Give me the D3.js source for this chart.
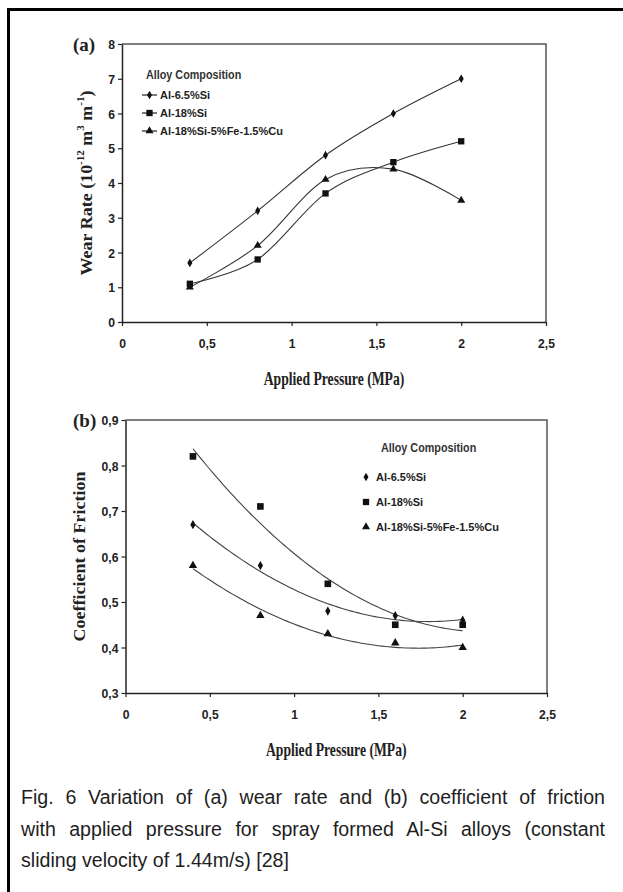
<!DOCTYPE html>
<html>
<head>
<meta charset="utf-8">
<script src="https://cdn.jsdelivr.net/npm/d3@7"></script>
<style>
  body { margin: 0; background: #fff; }
  #wrap { position: relative; width: 623px; height: 892px; overflow: hidden; }
  .cap { position: absolute; left: 21px; width: 584px; height: 32px; line-height: 32px;
         font-family: "Liberation Sans", Arial, sans-serif; font-size: 19.6px; color: #1e1e1e;
         white-space: nowrap; }
  .cap.just { text-align: justify; text-align-last: justify; }
</style>
</head>
<body>
<div id="wrap"></div>
<script>
// data
const pressure = [0.4, 0.8, 1.2, 1.6, 2.0];
const alloyNames = ["Al-6.5%Si", "Al-18%Si", "Al-18%Si-5%Fe-1.5%Cu"];
const alloySymbols = ["diamond", "square", "triangle"];

const wearSi65 = [1.7, 3.2, 4.8, 6.0, 7.0];
const wearSi18 = [1.1, 1.8, 3.7, 4.6, 5.2];
const wearSiFeCu = [1.0, 2.2, 4.1, 4.4, 3.5];

const cofSi65 = [0.67, 0.58, 0.48, 0.47, 0.46];
const cofSi18 = [0.82, 0.71, 0.54, 0.45, 0.45];
const cofSiFeCu = [0.58, 0.47, 0.43, 0.41, 0.40];

const xTicks = [0, 0.5, 1, 1.5, 2, 2.5];
const xTickLabels = ["0", "0,5", "1", "1,5", "2", "2,5"];
const wearTicks = [0, 1, 2, 3, 4, 5, 6, 7, 8];
const cofTicks = [0.3, 0.4, 0.5, 0.6, 0.7, 0.8, 0.9];
const cofTickLabels = ["0,3", "0,4", "0,5", "0,6", "0,7", "0,8", "0,9"];

const captionLines = [
  "Fig. 6 Variation of (a) wear rate and (b) coefficient of friction",
  "with applied pressure for spray formed Al-Si alloys (constant",
  "sliding velocity of 1.44m/s) [28]"
];

const W = 623, H = 892;
const sans = "'Liberation Sans', Arial, sans-serif";
const serif = "'Liberation Serif', 'Times New Roman', serif";

const wrap = d3.select("#wrap");
const svg = wrap.append("svg").attr("width", W).attr("height", H);

// outer frame (only left and top edges visible)
svg.append("path")
    .attr("d", `M8.5,${H} V9.5 H${W}`)
    .attr("fill", "none").attr("stroke", "#000").attr("stroke-width", 3);

const symbolType = {
  diamond: d3.symbolDiamond,
  square: d3.symbolSquare,
  triangle: d3.symbolTriangle
};
const symbolSize = { diamond: 22, square: 40, triangle: 28 };

function drawSymbol(g, kind, x, y, scaleUp) {
  g.append("path")
    .attr("d", d3.symbol().type(symbolType[kind]).size(symbolSize[kind] * (scaleUp || 1))())
    .attr("transform", `translate(${x},${y})`)
    .attr("fill", "#111");
}

// text squeezed horizontally (k) like the scanned figure
function sqText(g, x, y, txt, opts) {
  const t = g.append("text")
    .attr("transform", `translate(${x},${y}) scale(${opts.k || 1},1)` + (opts.rot ? ` rotate(${opts.rot})` : ""))
    .attr("font-family", opts.family || sans)
    .attr("font-weight", "bold")
    .attr("font-size", opts.size)
    .attr("fill", opts.fill || "#222")
    .attr("text-anchor", opts.anchor || "start")
    .attr("dominant-baseline", "central");
  if (txt !== null) t.text(txt);
  return t;
}

function panel(cfg) {
  const g = svg.append("g");
  const x = d3.scaleLinear().domain([0, 2.5]).range([cfg.left, cfg.right]);
  const y = d3.scaleLinear().domain(cfg.yDomain).range([cfg.bottom, cfg.top]);

  // box top and right
  g.append("path")
    .attr("d", `M${cfg.left},${cfg.top} H${cfg.right} V${cfg.bottom}`)
    .attr("fill", "none").attr("stroke", "#555").attr("stroke-width", 1.5);

  const xAxis = g.append("g")
    .attr("transform", `translate(0,${cfg.bottom})`)
    .call(d3.axisBottom(x).tickValues(xTicks).tickSize(4).tickSizeOuter(0)
      .tickFormat((d, i) => xTickLabels[i]));
  const yAxis = g.append("g")
    .attr("transform", `translate(${cfg.left},0)`)
    .call(d3.axisLeft(y).tickValues(cfg.yTicks).tickSize(4).tickSizeOuter(0)
      .tickFormat((d, i) => cfg.yLabels[i]));

  [xAxis, yAxis].forEach(a => {
    a.select(".domain").attr("stroke", "#222").attr("stroke-width", 1.5);
    a.selectAll(".tick line").attr("stroke", "#222").attr("stroke-width", 1.2);
    a.selectAll("text")
      .attr("font-family", sans).attr("font-weight", "bold")
      .attr("font-size", 13.5).attr("fill", "#222");
  });
  xAxis.selectAll("text").attr("y", 0).attr("dy", 0)
    .attr("dominant-baseline", "central")
    .attr("transform", "translate(0,21) scale(0.9,1)");
  yAxis.selectAll("text").attr("x", 0).attr("dy", 0)
    .attr("dominant-baseline", "central")
    .attr("transform", "translate(-7,0) scale(0.9,1)");

  // panel letter
  g.append("text")
    .attr("x", 73).attr("y", cfg.top + 7)
    .attr("font-family", serif).attr("font-weight", "bold")
    .attr("font-size", 19).attr("fill", "#222")
    .text(cfg.letter);

  // x title
  sqText(g, (cfg.left + cfg.right) / 2, cfg.bottom + 57, "Applied Pressure (MPa)",
    { family: serif, size: 18, anchor: "middle", k: 0.76 });

  // y title
  const yt = sqText(g, cfg.yTitleX, (cfg.top + cfg.bottom) / 2, null,
    { family: serif, size: 18, anchor: "middle", rot: -90, k: 0.88 });
  cfg.yTitle.forEach(p => {
    const ts = yt.append("tspan").text(p.t);
    if (p.sup) ts.attr("font-size", 11).attr("dy", -7);
    if (p.after) ts.attr("dy", 7);
  });

  return { g, x, y };
}

// ---------- (a) wear rate ----------
const pa = panel({
  left: 122, right: 546, top: 44, bottom: 322,
  yDomain: [0, 8], yTicks: wearTicks, yLabels: wearTicks.map(String),
  letter: "(a)", yTitleX: 86,
  yTitle: [
    { t: "Wear Rate (10" }, { t: "-12", sup: true }, { t: " m", after: true },
    { t: "3", sup: true }, { t: " m", after: true }, { t: "-1", sup: true },
    { t: ")", after: true }
  ]
});

const wearSeries = [wearSi65, wearSi18, wearSiFeCu];
const smooth = d3.line().curve(d3.curveCardinal.tension(0))
  .x(d => pa.x(d[0])).y(d => pa.y(d[1]));

wearSeries.forEach(vals => {
  const pts = pressure.map((p, i) => [p, vals[i]]);
  pa.g.append("path").attr("d", smooth(pts))
    .attr("fill", "none").attr("stroke", "#333").attr("stroke-width", 1.1);
});
// triangles first so the squares sit on top at 0.4 MPa
[2, 0, 1].forEach(si => {
  pressure.forEach((p, i) => drawSymbol(pa.g, alloySymbols[si], pa.x(p), pa.y(wearSeries[si][i])));
});

// legend (a)
sqText(pa.g, 146, 75, "Alloy Composition", { size: 13, fill: "#333", k: 0.83 });
alloyNames.forEach((name, i) => {
  const ly = 95 + i * 18;
  pa.g.append("line").attr("x1", 142).attr("x2", 157).attr("y1", ly).attr("y2", ly)
    .attr("stroke", "#222").attr("stroke-width", 1.2);
  drawSymbol(pa.g, alloySymbols[i], 149.5, ly);
  sqText(pa.g, 160, ly, name, { size: 11, fill: "#222" });
});

// ---------- (b) coefficient of friction ----------
const pb = panel({
  left: 125.5, right: 547, top: 420, bottom: 693,
  yDomain: [0.3, 0.9], yTicks: cofTicks, yLabels: cofTickLabels,
  letter: "(b)", yTitleX: 79,
  yTitle: [{ t: "Coefficient of Friction" }]
});

const cofSeries = [cofSi65, cofSi18, cofSiFeCu];

// 2nd order polynomial trendline fitted to each series (least squares)
function quadFit(xs, ys) {
  let s = [0, 0, 0, 0, 0], t = [0, 0, 0];
  xs.forEach((xv, i) => {
    for (let k = 0; k < 5; k++) s[k] += Math.pow(xv, k);
    for (let k = 0; k < 3; k++) t[k] += Math.pow(xv, k) * ys[i];
  });
  const A = [[s[0], s[1], s[2], t[0]], [s[1], s[2], s[3], t[1]], [s[2], s[3], s[4], t[2]]];
  for (let c = 0; c < 3; c++) {
    for (let r = c + 1; r < 3; r++) {
      const f = A[r][c] / A[c][c];
      for (let k = c; k < 4; k++) A[r][k] -= f * A[c][k];
    }
  }
  const b = [0, 0, 0];
  for (let r = 2; r >= 0; r--) {
    let v = A[r][3];
    for (let k = r + 1; k < 3; k++) v -= A[r][k] * b[k];
    b[r] = v / A[r][r];
  }
  return xv => b[0] + b[1] * xv + b[2] * xv * xv;
}

const trend = d3.line().x(d => pb.x(d[0])).y(d => pb.y(d[1]));
const xFine = d3.range(0.4, 2.0001, 0.02);
cofSeries.forEach(vals => {
  const f = quadFit(pressure, vals);
  pb.g.append("path").attr("d", trend(xFine.map(xv => [xv, f(xv)])))
    .attr("fill", "none").attr("stroke", "#444").attr("stroke-width", 1.1);
});
cofSeries.forEach((vals, si) => {
  pressure.forEach((p, i) => drawSymbol(pb.g, alloySymbols[si], pb.x(p), pb.y(vals[i]), 1.1));
});

// legend (b)
sqText(pb.g, 381, 448, "Alloy Composition", { size: 13, fill: "#333", k: 0.83 });
alloyNames.forEach((name, i) => {
  const ly = 477 + i * 25;
  drawSymbol(pb.g, alloySymbols[i], 366, ly);
  sqText(pb.g, 376, ly, name, { size: 11, fill: "#222" });
});

// ---------- caption ----------
captionLines.forEach((line, i) => {
  wrap.append("div")
    .attr("class", "cap" + (i < captionLines.length - 1 ? " just" : ""))
    .style("top", (781 + i * 31.5) + "px")
    .text(line);
});
</script>
</body>
</html>
